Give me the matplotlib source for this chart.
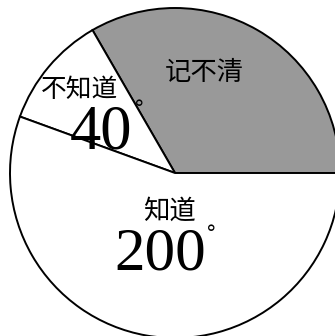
import matplotlib
matplotlib.use("Agg")
import matplotlib.pyplot as plt

labels = ["记不清", "不知道", "知道"]
degrees = [120, 40, 200]
colors = ["#999999", "white", "white"]
shown_degrees = ["", "40", "200"]

W, H, R = 335, 336, 165.0  # px, radius in px
cx, cy = 175, 173          # centre in px from top-left


def main():
    fig = plt.figure(figsize=(W / 100, H / 100), dpi=100)
    ax = fig.add_axes([0, 0, 1, 1])
    ax.pie(degrees, colors=colors, startangle=0, counterclock=True,
           wedgeprops=dict(edgecolor="black", linewidth=1.4))
    ax.set_xlim(-cx / R, (W - cx) / R)
    ax.set_ylim(-(H - cy) / R, cy / R)
    ax.set_aspect("equal", adjustable="box")
    ax.axis("off")

    def px(x, y):
        return (x - cx) / R, (cy - y) / R

    cjk = ["Noto Sans CJK SC", "DejaVu Sans"]
    serif = "Liberation Serif"

    ax.text(*px(204, 72), labels[0], fontsize=19, family=cjk,
            ha="center", va="center")
    ax.text(*px(80, 90), labels[1], fontsize=18.5, family=cjk,
            ha="center", va="center")
    ax.text(*px(169, 211), labels[2], fontsize=19, family=cjk,
            ha="center", va="center")

    ax.text(*px(101, 133), shown_degrees[1], fontsize=45, family=serif,
            ha="center", va="center")
    ax.text(*px(134, 109), "°", fontsize=15, family="DejaVu Sans",
            ha="left", va="center")
    ax.text(*px(160, 255), shown_degrees[2], fontsize=44, family=serif,
            ha="center", va="center")
    ax.text(*px(206, 234), "°", fontsize=15, family="DejaVu Sans",
            ha="left", va="center")

    fig.savefig("out.png", dpi=100, facecolor="white")


if __name__ == '__main__':
    main()
